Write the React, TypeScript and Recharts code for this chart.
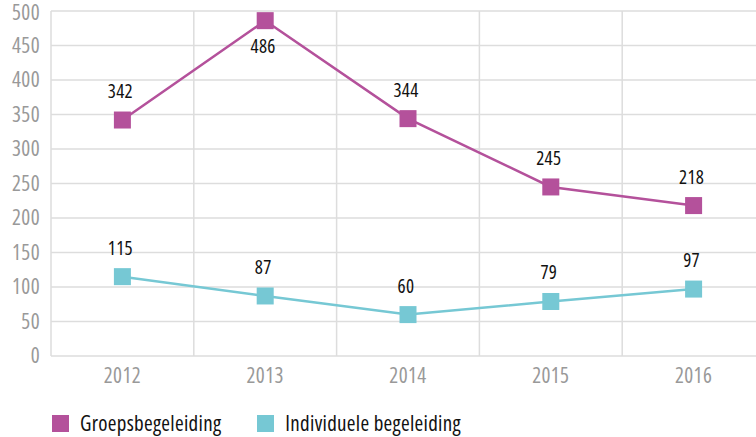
import { CartesianGrid, LabelList, Legend, Line, LineChart, XAxis, YAxis } from "recharts";

const years = ["2012", "2013", "2014", "2015", "2016"];
const groepsbegeleiding = [342, 486, 344, 245, 218];
const individueleBegeleiding = [115, 87, 60, 79, 97];
const yTicks = [0, 50, 100, 150, 200, 250, 300, 350, 400, 450, 500];

const data = years.map((year, i) => ({
  year,
  pos: i + 0.5,
  groep: groepsbegeleiding[i],
  indiv: individueleBegeleiding[i],
}));

const bandTicks = years.map((_, i) => i + 0.5);
const gridTicks = [0, ...years.map((_, i) => i + 1)];
const xDomain = [0, years.length];

const FONT = "'Open Sans', sans-serif";
const STRETCH = "75%";
const MAGENTA = "#b4519b";
const CYAN = "#76c8d4";

const squareDot = (color: string) => (props: any) => {
  const { cx, cy, index } = props;
  return <rect key={index} x={cx - 8.5} y={cy - 8.5} width={17} height={17} fill={color} />;
};

const valueLabel = (props: any) => {
  const { x, y, value, index } = props;
  const below = value > 450;
  return (
    <text
      key={index}
      x={x - 2}
      y={below ? y + 32 : y - 22}
      textAnchor="middle"
      fontSize={19}
      fontFamily={FONT}
      style={{ fontStretch: STRETCH, letterSpacing: 0.3 }}
      fill="#111"
    >
      {value}
    </text>
  );
};

// band boundaries, mapped through the plot area the same way the number axis does
const bandEdges = ({ xAxis, offset }: any) => {
  if (xAxis && typeof xAxis.scale === "function") return gridTicks.map((t) => xAxis.scale(t));
  return gridTicks.map((t) => offset.left + ((t - xDomain[0]) / (xDomain[1] - xDomain[0])) * offset.width);
};

const legendItems = [
  { name: "Groepsbegeleiding", color: MAGENTA },
  { name: "Individuele begeleiding", color: CYAN },
];

const renderLegend = () => (
  <div
    style={{
      display: "flex",
      alignItems: "center",
      paddingLeft: 52,
      paddingTop: 15,
      fontFamily: FONT,
      fontStretch: STRETCH,
      fontSize: 21,
      letterSpacing: 0.3,
      lineHeight: "24px",
      color: "#111",
    }}
  >
    {legendItems.map((item) => (
      <div key={item.name} style={{ display: "flex", alignItems: "center", marginRight: 36 }}>
        <span style={{ display: "inline-block", width: 17, height: 17, background: item.color, marginRight: 11 }} />
        <span>{item.name}</span>
      </div>
    ))}
  </div>
);

const tickStyle = {
  fill: "#999",
  fontSize: 21,
  fontFamily: FONT,
  style: { fontStretch: STRETCH, letterSpacing: 0.4 },
};

export default function App() {
  return (
    <div style={{ position: "absolute", left: 0, top: 0, width: 756, height: 437, overflow: "hidden", background: "#fff" }}>
      <LineChart width={770} height={437} data={data} margin={{ top: 11, right: 5, bottom: 8, left: 0 }}>
        <CartesianGrid stroke="#dddddd" strokeWidth={1.5} verticalCoordinatesGenerator={bandEdges} />
        <XAxis
          dataKey="pos"
          type="number"
          domain={xDomain}
          ticks={bandTicks}
          tickFormatter={(v) => years[Math.floor(v)]}
          axisLine={false}
          tickLine={false}
          tickSize={0}
          tickMargin={12}
          height={40}
          tick={tickStyle}
        />
        <YAxis
          domain={[0, 500]}
          ticks={yTicks}
          axisLine={false}
          tickLine={false}
          tickSize={0}
          tickMargin={11}
          width={51}
          tick={tickStyle}
        />
        <Legend verticalAlign="bottom" height={33} content={renderLegend} />
        <Line
          dataKey="groep"
          stroke={MAGENTA}
          strokeWidth={2.5}
          dot={squareDot(MAGENTA)}
          isAnimationActive={false}
        >
          <LabelList dataKey="groep" content={valueLabel} />
        </Line>
        <Line
          dataKey="indiv"
          stroke={CYAN}
          strokeWidth={2.5}
          dot={squareDot(CYAN)}
          isAnimationActive={false}
        >
          <LabelList dataKey="indiv" content={valueLabel} />
        </Line>
      </LineChart>
    </div>
  );
}
